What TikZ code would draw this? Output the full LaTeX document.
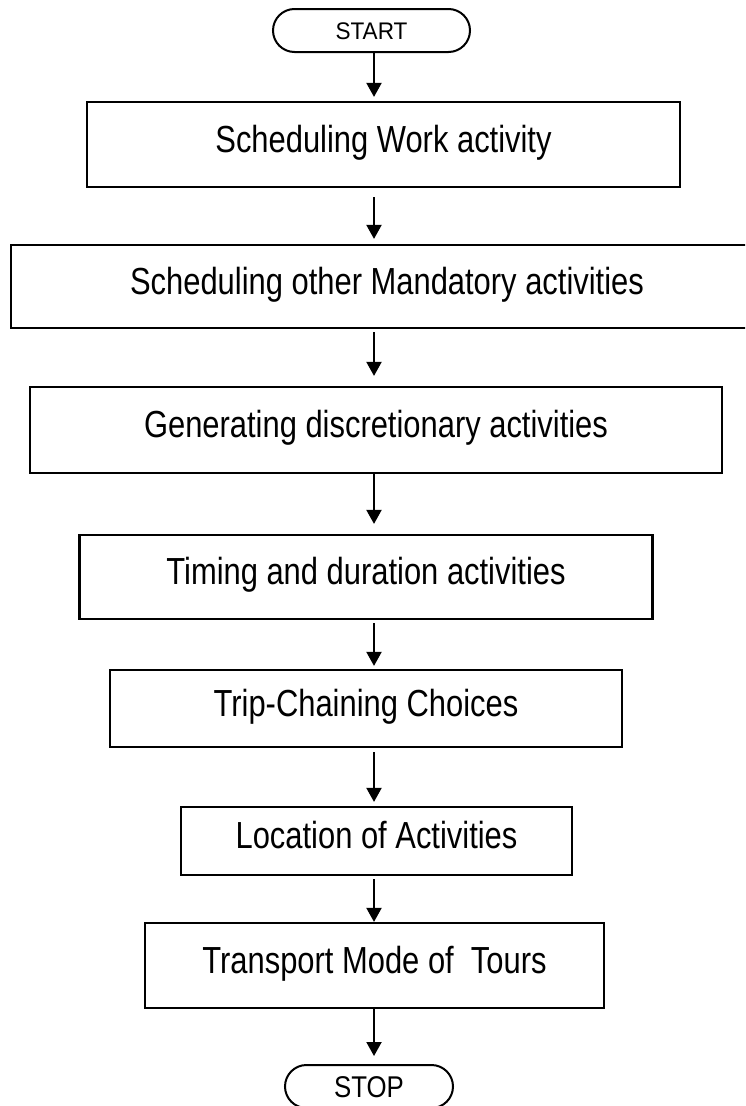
\documentclass[tikz,border=0pt]{standalone}
\usepackage{fontspec}
\setmainfont{Liberation Sans}
\newfontfamily\boxfont[FakeStretch=0.82]{Liberation Sans}
\newfontfamily\startfont[FakeStretch=0.94]{Liberation Sans}
\newfontfamily\stopfont[FakeStretch=0.86]{Liberation Sans}
\usetikzlibrary{arrows.meta}
\tikzset{
  stepbox/.style={draw, line width=2.2pt, inner sep=0pt, fill=white,
    font=\boxfont\fontsize{37.7}{40}\selectfont, text height=28pt, text depth=13pt},
  term/.style={draw, line width=2pt, inner sep=0pt, rounded corners=21.5pt, fill=white},
  arr/.style={line width=2pt, -{Triangle[width=15pt,length=14pt]}}
}
\begin{document}
\begin{tikzpicture}[x=1pt,y=-1pt]
\clip (0,0) rectangle (745,1106);
\fill[white] (0,0) rectangle (745,1106);
\coordinate (ax) at (374,0);
\node[term, minimum width=197pt, minimum height=43pt, font=\startfont\fontsize{24}{26}\selectfont, text height=17.2pt, text depth=0pt] (start) at (371.5,30.5) {START};
\node[stepbox, minimum width=593pt, minimum height=85pt] (b1) at (383.5,144.5) {Scheduling Work activity};
\node[stepbox, minimum width=752pt, minimum height=83pt] (b2) at (387,286.5) {Scheduling other Mandatory activities};
\node[stepbox, minimum width=692pt, minimum height=86pt] (b3) at (376,430) {Generating discretionary activities};
\node[stepbox, minimum width=573pt, minimum height=84pt] (b4) at (366,577) {Timing and duration activities};
\node[stepbox, minimum width=512pt, minimum height=77pt] (b5) at (366,708.5) {Trip-Chaining Choices};
\node[stepbox, minimum width=391pt, minimum height=68pt] (b6) at (376.5,841) {Location of Activities};
\node[stepbox, minimum width=459pt, minimum height=85pt] (b7) at (374.5,965.5) {Transport Mode of\ \ Tours};
\node[term, minimum width=168pt, minimum height=43pt, font=\stopfont\fontsize{30}{32}\selectfont, text height=21.5pt, text depth=0pt] (stop) at (369,1086.5) {STOP};
\draw[arr] (start.south -| ax) -- ([yshift=4pt]b1.north -| ax);
\draw[arr] ([yshift=-9pt]b1.south -| ax) -- ([yshift=5pt]b2.north -| ax);
\draw[arr] ([yshift=-3pt]b2.south -| ax) -- ([yshift=10pt]b3.north -| ax);
\draw[arr] (b3.south -| ax) -- ([yshift=10pt]b4.north -| ax);
\draw[arr] ([yshift=-3pt]b4.south -| ax) -- ([yshift=3pt]b5.north -| ax);
\draw[arr] ([yshift=-4pt]b5.south -| ax) -- ([yshift=4pt]b6.north -| ax);
\draw[arr] ([yshift=-3pt]b6.south -| ax) -- (b7.north -| ax);
\draw[arr] (b7.south -| ax) -- ([yshift=8pt]stop.north -| ax);
\end{tikzpicture}
\end{document}
